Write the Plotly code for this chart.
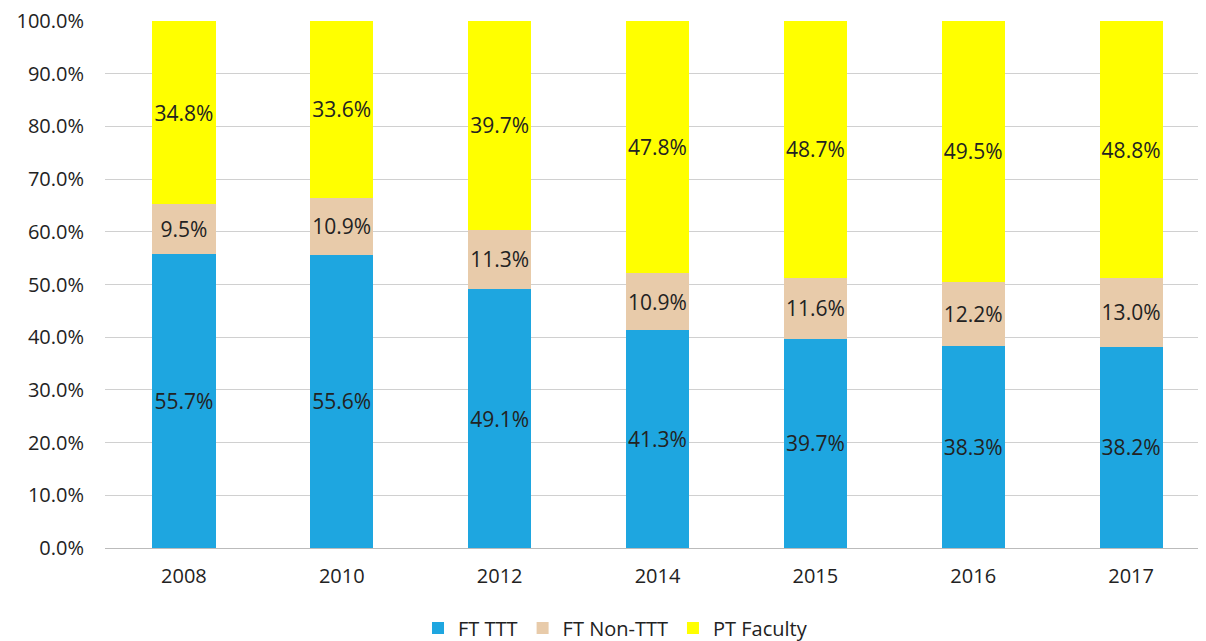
import plotly.graph_objects as go

years = ["2008", "2010", "2012", "2014", "2015", "2016", "2017"]
ft_ttt = [55.7, 55.6, 49.1, 41.3, 39.7, 38.3, 38.2]
ft_non_ttt = [9.5, 10.9, 11.3, 10.9, 11.6, 12.2, 13.0]
pt_faculty = [34.8, 33.6, 39.7, 47.8, 48.7, 49.5, 48.8]

series = [
    ("FT TTT", ft_ttt, "#1EA6E0"),
    ("FT Non-TTT", ft_non_ttt, "#E8CBAA"),
    ("PT Faculty", pt_faculty, "#FFFF00"),
]

FONT = "Open Sans, Lato, sans-serif"

fig = go.Figure()
for name, vals, col in series:
    fig.add_trace(go.Bar(
        x=years, y=vals, name=name,
        marker=dict(color=col, line=dict(width=0)),
        text=[f"{v:.1f}%" for v in vals],
        textposition="inside", insidetextanchor="middle", textangle=0,
        textfont=dict(family=FONT, size=21, color="#222222"),
        constraintext="none",
    ))

fig.update_layout(
    barmode="stack",
    bargap=0.6,
    width=1202, height=641,
    margin=dict(l=97, r=0, t=13, b=101),
    plot_bgcolor="white", paper_bgcolor="white",
    font=dict(family=FONT, size=20, color="#222222"),
    uniformtext=dict(mode=False),
    legend=dict(orientation="h", x=0.462, xanchor="center", y=-0.152, yanchor="middle",
                font=dict(size=20), itemsizing="constant", traceorder="normal",
                itemwidth=30),
    xaxis=dict(type="category", showgrid=False, showline=True, linecolor="#BBBBBB",
               tickfont=dict(size=20), ticks="", automargin=False, ticklabelstandoff=10),
    yaxis=dict(range=[0, 100], dtick=10, tickformat=".1f", ticksuffix="%",
               showgrid=True, gridcolor="#D0D0D0", zeroline=False,
               tickfont=dict(size=20), ticks="", automargin=False, ticklabelstandoff=20,
               ticklabeloverflow="allow"),
)

fig.write_html("out.html")
